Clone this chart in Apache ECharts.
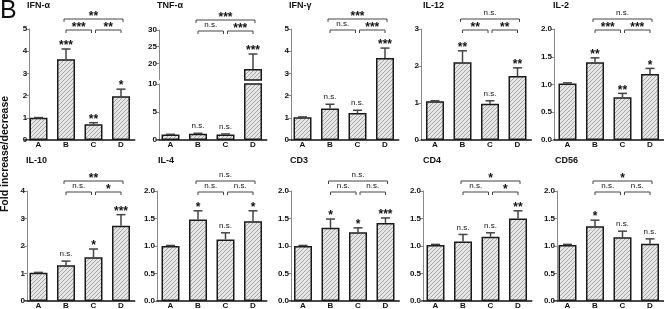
<!DOCTYPE html>
<html>
<head>
<meta charset="utf-8">
<script src="https://cdn.jsdelivr.net/npm/echarts@6/dist/echarts.min.js"></script>
<style>
  html, body { margin: 0; padding: 0; background: #fff; }
  #chart { width: 664px; height: 309px; }
</style>
</head>
<body>
<div id="chart"></div>
<script>
const categories = ['A', 'B', 'C', 'D'];
const panelNames = ['IFN-α', 'TNF-α', 'IFN-γ', 'IL-12', 'IL-2', 'IL-10', 'IL-4', 'CD3', 'CD4', 'CD56'];

// mean fold change per group
const ifnAlpha = [1.0, 3.64, 0.71, 1.97];
const tnfAlpha = [1.0, 1.1, 1.0, 18.3];
const ifnGamma = [1.02, 1.42, 1.22, 3.69];
const il12 = [1.05, 2.10, 0.98, 1.73];
const il2 = [1.02, 1.40, 0.77, 1.19];
const il10 = [1.03, 1.30, 1.59, 2.74];
const il4 = [1.00, 1.48, 1.12, 1.45];
const cd3 = [1.00, 1.33, 1.25, 1.42];
const cd4 = [1.02, 1.08, 1.17, 1.50];
const cd56 = [1.02, 1.36, 1.16, 1.04];

// upper error bar length
const ifnAlphaErr = [0.01, 0.46, 0.07, 0.32];
const tnfAlphaErr = [0.02, 0.1, 0.08, 4.5];
const ifnGammaErr = [0.02, 0.19, 0.12, 0.45];
const il12Err = [0.01, 0.31, 0.08, 0.22];
const il2Err = [0.01, 0.08, 0.07, 0.10];
const il10Err = [0.01, 0.15, 0.30, 0.40];
const il4Err = [0.01, 0.16, 0.12, 0.19];
const cd3Err = [0.01, 0.16, 0.08, 0.09];
const cd4Err = [0.01, 0.13, 0.07, 0.14];
const cd56Err = [0.01, 0.11, 0.11, 0.09];

// significance above each bar (vs A)
const barMarks = [
  ['', '***', '**', '*'],
  ['', 'n.s.', 'n.s.', '***'],
  ['', 'n.s.', 'n.s.', '***'],
  ['', '**', 'n.s.', '**'],
  ['', '**', '**', '*'],
  ['', 'n.s.', '*', '***'],
  ['', '*', 'n.s.', '*'],
  ['', '*', '*', '***'],
  ['', 'n.s.', 'n.s.', '**'],
  ['', '*', 'n.s.', 'n.s.']
];
// brackets: B-C, C-D, B-D
const bracketPairs = [[1, 2], [2, 3], [1, 3]];
const pairMarks = [
  ['***', '**', '**'],
  ['n.s.', '***', '***'],
  ['n.s.', '***', '***'],
  ['**', '**', 'n.s.'],
  ['***', '***', 'n.s.'],
  ['n.s.', '*', '**'],
  ['n.s.', 'n.s.', 'n.s.'],
  ['n.s.', 'n.s.', 'n.s.'],
  ['n.s.', '*', '*'],
  ['n.s.', 'n.s.', '*']
];

const yMaxes = [5, 30, 5, 3, 2, 4, 2, 2, 2, 2];
const yTicks = [1, 5, 1, 1, 0.5, 1, 0.5, 0.5, 0.5, 0.5];
const tnfBreak = [10, 15]; // TNF-α axis is cut between these

const means = [ifnAlpha, tnfAlpha, ifnGamma, il12, il2, il10, il4, cd3, cd4, cd56];
const errs = [ifnAlphaErr, tnfAlphaErr, ifnGammaErr, il12Err, il2Err, il10Err, il4Err, cd3Err, cd4Err, cd56Err];

const FONT = 'Liberation Sans, Arial, sans-serif';

// panel placement
const slots = [
  { left: 24.75, axisX: 29.3, top: 29, height: 111, tx: 27, ty: 1 },
  { left: 156.75, axisX: 159, top: 29, height: 111, tx: 157, ty: 1 },
  { left: 288.75, axisX: 291, top: 29, height: 111, tx: 289, ty: 1 },
  { left: 421.25, axisX: 421, top: 29, height: 111, tx: 423, ty: 1 },
  { left: 553.75, axisX: 554, top: 29, height: 111, tx: 553, ty: 1 },
  { left: 24.75, axisX: 27, top: 191, height: 110, tx: 26, ty: 156 },
  { left: 156.75, axisX: 157, top: 191, height: 110, tx: 158, ty: 156 },
  { left: 289.25, axisX: 291, top: 191, height: 110, tx: 290, ty: 156 },
  { left: 421.75, axisX: 423, top: 191, height: 110, tx: 423, ty: 156 },
  { left: 553.75, axisX: 557, top: 191, height: 110, tx: 555, ty: 156 }
];

// hatch fill
const pattern = document.createElement('canvas');
pattern.width = 4;
pattern.height = 4;
const pc = pattern.getContext('2d');
pc.fillStyle = '#e6e6e6';
pc.fillRect(0, 0, 4, 4);
pc.strokeStyle = '#9f9f9f';
pc.lineWidth = 0.9;
pc.beginPath();
pc.moveTo(0, 4); pc.lineTo(4, 0);
pc.moveTo(-1, 1); pc.lineTo(1, -1);
pc.moveTo(3, 5); pc.lineTo(5, 3);
pc.stroke();

const grids = [], xAxes = [], yAxes = [], series = [], titles = [];

function markText (text, x, y) {
  const stars = text !== 'n.s.';
  return {
    type: 'text',
    style: {
      text: text,
      x: x,
      y: stars ? y + 6 : y,
      align: 'center',
      verticalAlign: 'bottom',
      fontSize: stars ? 12 : 8,
      fontWeight: stars ? 'bold' : 'normal',
      fontFamily: FONT,
      fill: '#111'
    }
  };
}

function addGrid (slot, top, height, yMin, yMax, step, showX, hideMin) {
  const idx = grids.length;
  grids.push({ left: slot.left, top: top, width: 110, height: height, outerBoundsMode: 'none' });
  xAxes.push({
    type: 'category',
    gridIndex: idx,
    data: categories,
    show: showX,
    axisLine: { lineStyle: { color: '#111', width: 1.5 } },
    axisTick: { show: false },
    axisLabel: { fontSize: 8, fontWeight: 'bold', fontFamily: FONT, color: '#111', margin: 1 }
  });
  yAxes.push({
    type: 'value',
    gridIndex: idx,
    min: yMin,
    max: yMax,
    interval: step,
    offset: slot.left - slot.axisX,
    splitLine: { show: false },
    axisLine: { show: true, lineStyle: { color: '#8a8a8a', width: 1 } },
    axisTick: { show: true, length: 3, lineStyle: { color: '#8a8a8a' } },
    axisLabel: {
      fontSize: 8,
      fontWeight: 'bold',
      fontFamily: FONT,
      color: '#111',
      margin: 2,
      showMinLabel: !hideMin,
      formatter: v => step < 1 ? v.toFixed(1) : String(v)
    }
  });
  return idx;
}

function addBars (gi, values) {
  series.push({
    type: 'bar',
    xAxisIndex: gi,
    yAxisIndex: gi,
    data: values,
    barWidth: 18,
    animation: false,
    itemStyle: { color: { image: pattern, repeat: 'repeat' }, borderColor: '#1a1a1a', borderWidth: 1.5 }
  });
}

function addErrors (gi, k, which) {
  series.push({
    type: 'custom',
    xAxisIndex: gi,
    yAxisIndex: gi,
    z: 3,
    animation: false,
    data: which.map(i => [i, means[k][i], errs[k][i]]),
    renderItem: (params, api) => {
      const i = api.value(0), m = api.value(1), e = api.value(2);
      const base = api.coord([i, m]);
      const tip = api.coord([i, m + e]);
      const children = [
        { type: 'line', shape: { x1: base[0], y1: base[1], x2: tip[0], y2: tip[1] }, style: { stroke: '#444', lineWidth: 1.5 } },
        { type: 'line', shape: { x1: tip[0] - 4.5, y1: tip[1], x2: tip[0] + 4.5, y2: tip[1] }, style: { stroke: '#444', lineWidth: 1.5 } }
      ];
      const mark = barMarks[k][i];
      if (mark) children.push(markText(mark, tip[0], tip[1] - 3));
      return { type: 'group', children: children };
    }
  });
}

function addBrackets (gi, k) {
  series.push({
    type: 'custom',
    xAxisIndex: gi,
    yAxisIndex: gi,
    z: 3,
    animation: false,
    encode: { x: [0, 1], y: 2 },
    data: bracketPairs.map((p, j) => [p[0], p[1], j]),
    renderItem: (params, api) => {
      const a = api.value(0), b = api.value(1), j = api.value(2);
      const top = params.coordSys.y;
      const y = j === 2 ? top - 10 : top + 1;
      let x1 = api.coord([a, yMaxes[k]])[0];
      let x2 = api.coord([b, yMaxes[k]])[0];
      if (j === 0) x2 -= 2;
      if (j === 1) x1 += 2;
      if (j === 2) { x1 -= 2; x2 += 2; }
      return {
        type: 'group',
        children: [
          { type: 'polyline', shape: { points: [[x1, y + 3], [x1, y], [x2, y], [x2, y + 3]] }, style: { stroke: '#444', lineWidth: 1, fill: null } },
          markText(pairMarks[k][j], (x1 + x2) / 2, y - 2)
        ]
      };
    }
  });
}

panelNames.forEach((name, k) => {
  const slot = slots[k];
  titles.push({
    text: name,
    left: slot.tx,
    top: slot.ty,
    padding: 0,
    textStyle: { fontSize: 9, fontWeight: 'bold', fontFamily: FONT, color: '#111' }
  });
  if (k === 1) {
    const lo = addGrid(slot, 84, 56, 0, tnfBreak[0], yTicks[k], true, false);
    const hi = addGrid(slot, 30, 50, tnfBreak[1], yMaxes[k], yTicks[k], false, true);
    addBars(lo, means[k]);
    addErrors(lo, k, [0, 1, 2]);
    addBars(hi, means[k].map(v => v > tnfBreak[1] ? v : null));
    addErrors(hi, k, [3]);
    addBrackets(hi, k);
  } else {
    const gi = addGrid(slot, slot.top, slot.height, 0, yMaxes[k], yTicks[k], true, false);
    addBars(gi, means[k]);
    addErrors(gi, k, [0, 1, 2, 3]);
    addBrackets(gi, k);
  }
});

const chart = echarts.init(document.getElementById('chart'), null, { renderer: 'canvas' });
chart.setOption({
  animation: false,
  title: titles,
  grid: grids,
  xAxis: xAxes,
  yAxis: yAxes,
  series: series,
  graphic: [
    { type: 'text', x: 0, y: -1, style: { text: 'B', fontSize: 25, fontFamily: FONT, fill: '#111', verticalAlign: 'top' } },
    {
      type: 'text', x: 5, y: 154, rotation: Math.PI / 2,
      style: { text: 'Fold increase/decrease', fontSize: 10.5, fontWeight: 'bold', fontFamily: FONT, fill: '#111', align: 'center', verticalAlign: 'middle' }
    }
  ]
});
</script>
</body>
</html>
